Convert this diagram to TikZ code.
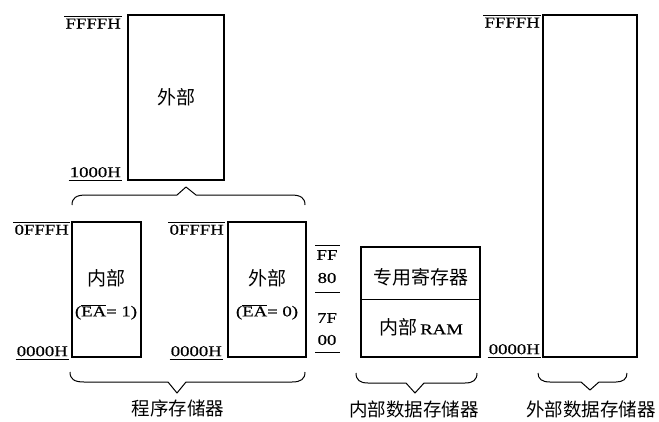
\documentclass[tikz,border=0pt]{standalone}
\usepackage{fontspec}
\setmainfont{Liberation Serif}[FakeStretch=1.25,FakeBold=0.6]
\newfontfamily\cjk{Noto Sans CJK SC}
\begin{document}
\begin{tikzpicture}[x=1pt,y=-1pt,
  box/.style={draw, line width=2.2pt, inner sep=0pt},
  lbl/.style={font=\fontsize{15}{18}\selectfont, inner xsep=1pt, inner ysep=2.5pt},
  cj/.style={font=\cjk\fontsize{19}{22}\selectfont, inner sep=0pt},
  cjb/.style={font=\cjk\fontsize{18.5}{22}\selectfont, inner sep=0pt},
  brc/.style={line width=1pt, line join=round},
  rl/.style={line width=0.9pt}]
\useasboundingbox (0,0) rectangle (659,421);
% ---- program memory, external upper part
\node[box, minimum width=96pt, minimum height=165pt] (ptop) at (176,97.5) {};
\node[cj] (ptopt) at (ptop.center) {外部};
\node[lbl, anchor=north east] (lffff) at (122,16) {FFFFH};
\draw[rl] (lffff.north west) -- (lffff.north east);
\node[lbl, anchor=south east] (l1000) at (122,180) {1000H};
\draw[rl] (l1000.south west) -- (l1000.south east);
% upper brace
\draw[brc] (72,205) .. controls (72,198) and (76,195) .. (86,195) -- (177,195) -- (186,187) -- (196,195) -- (291,195) .. controls (301,195) and (305,198) .. (305,205);
% ---- internal program memory
\node[box, minimum width=69pt, minimum height=135pt] (pin) at (106.5,289.5) {};
\node[cj] (pint) at (106,278) {内部};
\node[lbl] (pinea) at (106,312) {($\overline{\mbox{EA}}$= 1)};
\node[lbl, anchor=north east] (l0fff) at (70,222) {0FFFH};
\draw[rl] (l0fff.north west) -- (l0fff.north east);
\node[lbl, anchor=south east] (l0000) at (69,359) {0000H};
\draw[rl] (l0000.south west) -- (l0000.south east);
% ---- external program memory (EA=0)
\node[box, minimum width=78pt, minimum height=135pt] (pex) at (267,289.5) {};
\node[cj] (pext) at (267,278) {外部};
\node[lbl] (pexea) at (267,312) {($\overline{\mbox{EA}}$= 0)};
\node[lbl, anchor=north east] (m0fff) at (225,222) {0FFFH};
\draw[rl] (m0fff.north west) -- (m0fff.north east);
\node[lbl, anchor=south east] (m0000) at (223,359) {0000H};
\draw[rl] (m0000.south west) -- (m0000.south east);
% lower brace
\draw[brc] (70,372) .. controls (70,379) and (74,382) .. (84,382) -- (168,382) -- (177,393) -- (186,382) -- (292,382) .. controls (301,382) and (305,379) .. (305,372);
\node[cjb] (prog) at (178,408) {程序存储器};
% ---- address labels of internal data memory
\node[lbl, inner xsep=1.5pt] (aff) at (327,255) {FF};
\node[lbl, inner xsep=1.5pt] (a80) at (327,278) {80};
\node[lbl, inner xsep=1.5pt] (a7f) at (327,318) {7F};
\node[lbl, inner xsep=1.5pt] (a00) at (327,340) {00};
\coordinate (o1w) at (315,245); \coordinate (o1e) at (340,245);
\coordinate (u1w) at (315,292); \coordinate (u1e) at (340,292);
\coordinate (u2w) at (315,352); \coordinate (u2e) at (340,352);
\draw[rl] (o1w) -- (o1e);
\draw[rl] (u1w) -- (u1e);
\draw[rl] (u2w) -- (u2e);
% ---- internal data memory
\node[inner sep=0pt, minimum width=119pt, minimum height=52pt] (sfr) at (420.5,273) {};
\node[inner sep=0pt, minimum width=119pt, minimum height=58pt] (ram) at (420.5,328) {};
\draw[line width=2.2pt] (sfr.north west) rectangle (ram.south east);
\draw[line width=1pt] (sfr.south west) -- (sfr.south east);
\node[cj] (sfrt) at (421,277) {专用寄存器};
\node[inner sep=0pt] (ramt) at (421,327) {{\cjk\fontsize{19}{22}\selectfont 内部}\ {\fontsize{15}{18}\selectfont RAM}};
\draw[brc] (356,373) .. controls (356,380) and (360,383) .. (368,383) -- (406,383) -- (415,393) -- (424,383) -- (465,383) .. controls (473,383) and (477,380) .. (477,373);
\node[cjb] (idata) at (414,409) {内部数据存储器};
% ---- external data memory
\node[box, minimum width=94pt, minimum height=342pt] (xd) at (590,186) {};
\node[lbl, anchor=north east] (rffff) at (541,15) {FFFFH};
\draw[rl] (rffff.north west) -- (rffff.north east);
\node[lbl, anchor=south east] (r0000) at (541,357) {0000H};
\draw[rl] (r0000.south west) -- (r0000.south east);
\draw[brc] (538,373) .. controls (538,379) and (542,382) .. (550,382) -- (581,382) -- (590,390) -- (599,382) -- (616,382) .. controls (623,382) and (627,379) .. (627,373);
\node[cjb] (xdata) at (591,409) {外部数据存储器};
\end{tikzpicture}
\end{document}
